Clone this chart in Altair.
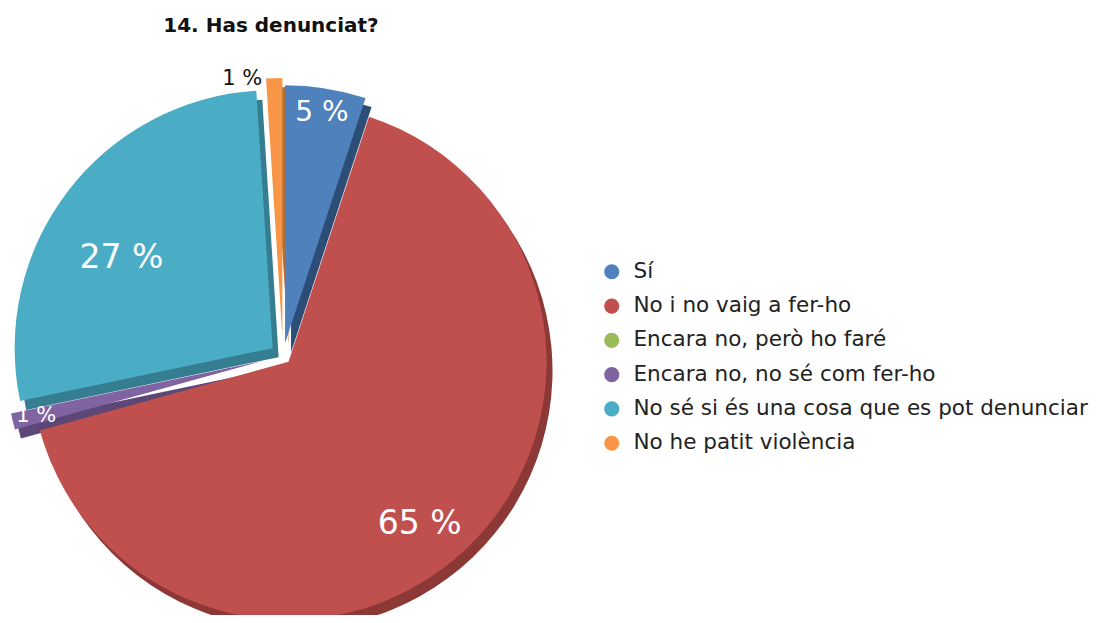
import altair as alt
import pandas as pd

title_text = "14. Has denunciat?"
categories = [
    "Sí",
    "No i no vaig a fer-ho",
    "Encara no, però ho faré",
    "Encara no, no sé com fer-ho",
    "No sé si és una cosa que es pot denunciar",
    "No he patit violència",
]
values = [5, 65, 0, 1, 27, 1]
colors = ["#4F81BD", "#C0504D", "#9BBB59", "#8064A2", "#4BACC6", "#F79646"]
side_colors = ["#2C4D75", "#8C3836", "#71893F", "#5C4776", "#357D91", "#B66D31"]

df = pd.DataFrame({"cat": categories, "value": values, "idx": list(range(len(categories)))})

FONT = "DejaVu Sans"
CX, CY, R = 275, 348, 258

base = (
    alt.Chart(df)
    .transform_window(cum="sum(value)", sort=[alt.SortField("idx")], frame=[None, 0])
    .transform_joinaggregate(total="sum(value)")
    .transform_calculate(
        t0="(datum.cum - datum.value) / datum.total",
        t1="datum.cum / datum.total",
        mid="2 * PI * (datum.cum - datum.value / 2) / datum.total",
    )
    .transform_calculate(ex="datum.value < 3 ? 20 : (datum.value > 50 ? 8 : 13)")
    .transform_calculate(
        ox=f"{CX} + datum.ex * sin(datum.mid)",
        oy=f"{CY} - datum.ex * cos(datum.mid)",
        lr="datum.value >= 20 ? 190 : (datum.value >= 5 ? 233 : (datum.idx == 3 ? 234 : 257))",
        ldy="datum.value >= 20 ? 25 : 0",
        fs="datum.value >= 20 ? 33 : (datum.value >= 5 ? 28 : 21)",
        lab="datum.value > 0 ? datum.value + ' %' : ''",
    )
    .transform_calculate(
        lx="datum.ox + datum.lr * sin(datum.mid)",
        ly="datum.oy - datum.lr * cos(datum.mid) + datum.ldy",
        sx="datum.ox + 6",
        sy="datum.oy + 9",
    )
)

theta = alt.Theta("t0:Q", scale=alt.Scale(domain=[0, 1]), stack=None)

side = base.mark_arc(outerRadius=R).encode(
    theta=theta,
    theta2="t1:Q",
    color=alt.Color("cat:N", scale=alt.Scale(domain=categories, range=side_colors), legend=None),
    x=alt.X("sx:Q", scale=None),
    y=alt.Y("sy:Q", scale=None),
)

top = base.mark_arc(outerRadius=R).encode(
    theta=theta,
    theta2="t1:Q",
    color=alt.Color(
        "cat:N",
        scale=alt.Scale(domain=categories, range=colors),
        sort=categories,
        legend=alt.Legend(
            orient="none",
            legendX=593,
            legendY=253,
            title=None,
            symbolType="circle",
            symbolSize=230,
            symbolStrokeWidth=0,
            labelFont=FONT,
            labelFontSize=21.5,
            labelColor="#222222",
            labelOffset=11,
            rowPadding=11.3,
            padding=0,
            labelLimit=600,
        ),
    ),
    x=alt.X("ox:Q", scale=None),
    y=alt.Y("oy:Q", scale=None),
)

labels_white = base.transform_filter("datum.value > 0 && datum.idx != 5").mark_text(
    font=FONT, color="white"
).encode(
    x=alt.X("lx:Q", scale=None),
    y=alt.Y("ly:Q", scale=None),
    text="lab:N",
    size=alt.Size("fs:Q", scale=None),
)

labels_dark = base.transform_filter("datum.value > 0 && datum.idx == 5").mark_text(
    font=FONT, color="#111111", align="right", dx=-12
).encode(
    x=alt.X("lx:Q", scale=None),
    y=alt.Y("ly:Q", scale=None),
    text="lab:N",
    size=alt.Size("fs:Q", scale=None),
)

title = alt.Chart(pd.DataFrame({"t": [title_text]})).mark_text(
    font=FONT, fontSize=20, fontWeight="bold", color="#111111"
).encode(text="t:N", x=alt.value(263), y=alt.value(18))

chart = (
    alt.layer(side, top, labels_white, labels_dark, title)
    .resolve_scale(color="independent")
    .properties(width=1089, height=607, autosize=alt.AutoSizeParams(type="none"), padding=0)
    .configure_view(stroke=None)
)

chart.save("out.html", embed_options={"renderer": "svg", "actions": False})
